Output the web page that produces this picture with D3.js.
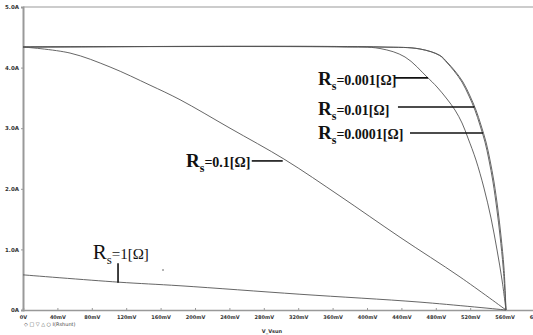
<!DOCTYPE html>
<html>
<head>
<meta charset="utf-8">
<script src="https://cdn.jsdelivr.net/npm/d3@7"></script>
<style>
  body { margin: 0; background: #fff; }
  svg { display: block; }
</style>
</head>
<body>
<svg id="chart"></svg>
<script>
const WIDTH = 533;
const HEIGHT = 335;

// voltage ticks (mV) and current ticks (A)
const xTicks = [0, 40, 80, 120, 160, 200, 240, 280, 320, 360, 400, 440, 480, 520, 560, 600];
const yTicks = [0, 1, 2, 3, 4, 5];

// I-V curves, [mV, A]
const rs001 = [[0, 4.34], [415.1, 4.34], [461.6, 4.307], [484.9, 4.2], [493.0, 4.092], [502.3, 3.944], [511.6, 3.762], [519.8, 3.531], [526.7, 3.3], [532.5, 3.053], [538.4, 2.772], [543.0, 2.475], [547.7, 2.112], [552.3, 1.65], [555.8, 1.221], [559.3, 0.693], [561.6, 0]];
const rs00001 = [[0, 4.34], [415.1, 4.34], [461.6, 4.307], [484.5, 4.2], [492.3, 4.092], [501.3, 3.944], [510.4, 3.762], [518.6, 3.531], [525.5, 3.3], [531.3, 3.053], [537.2, 2.772], [541.8, 2.475], [546.5, 2.112], [551.1, 1.65], [554.7, 1.221], [558.4, 0.693], [561.6, 0]];
const rs0001 = [[0, 4.34], [368.6, 4.34], [415.1, 4.315], [444.2, 4.175], [469.8, 3.845], [481.4, 3.68], [493.0, 3.482], [502.3, 3.3], [510.5, 3.086], [517.4, 2.838], [526.7, 2.475], [536.0, 2.013], [544.2, 1.518], [551.2, 0.99], [557.0, 0.495], [561.6, 0]];
const rs01 = [[0, 4.34], [54.7, 4.24], [101.2, 4.01], [147.7, 3.71], [182.6, 3.47], [240.7, 3.0], [304.7, 2.48], [368.6, 1.88], [438.4, 1.2], [508.2, 0.545], [561.6, 0]];
const rs1 = [[0, 0.58], [110.5, 0.46], [182.6, 0.40], [322, 0.26], [461.6, 0.13], [561.6, 0]];

const curves = [rs001, rs00001, rs0001, rs01, rs1];

// labels: value text, text anchor [mV, A], leader [[mV, A], [mV, A]]
const labelText = ['0.001', '0.01', '0.0001', '0.1', '1'];
const labelPos = [[343, 3.71], [343, 3.22], [343, 2.82], [189.5, 2.36], [81, 0.84]];
const leaders = [
  [[432, 3.83], [471, 3.83]],
  [[436, 3.35], [525, 3.35]],
  [[450, 2.92], [535, 2.92]],
  [[266, 2.46], [302, 2.46]],
  [[110.5, 0.77], [110.5, 0.45]]
];

const svg = d3.select('#chart').attr('width', WIDTH).attr('height', HEIGHT);

const x = d3.scaleLinear().domain([0, 600]).range([23, 539]);
const y = d3.scaleLinear().domain([0, 5]).range([310, 7]);

// top border
svg.append('line')
  .attr('x1', x(0)).attr('x2', WIDTH)
  .attr('y1', y(5)).attr('y2', y(5))
  .attr('stroke', '#999').attr('stroke-width', 1.2);

// x axis
const xAxis = svg.append('g')
  .attr('transform', `translate(0,${y(0)})`)
  .call(d3.axisBottom(x).tickValues(xTicks).tickSize(-2).tickPadding(5)
    .tickFormat(d => d === 0 ? '0V' : d + 'mV'));
xAxis.select('.domain').attr('stroke', '#999').attr('stroke-width', 1.5);
xAxis.selectAll('.tick line').attr('stroke', '#999');
xAxis.selectAll('text')
  .attr('font-family', 'DejaVu Sans').attr('font-size', 5).attr('font-weight', 'bold').attr('fill', '#333');

// y axis
const yAxis = svg.append('g')
  .attr('transform', `translate(${x(0)},0)`)
  .call(d3.axisLeft(y).tickValues(yTicks).tickSize(2).tickPadding(2)
    .tickFormat(d => d === 0 ? '0A' : d.toFixed(1) + 'A'));
yAxis.select('.domain').attr('stroke', '#999').attr('stroke-width', 2);
yAxis.selectAll('.tick line').attr('stroke', '#999');
yAxis.selectAll('text')
  .attr('font-family', 'DejaVu Sans').attr('font-size', 5.5).attr('font-weight', 'bold').attr('fill', '#333');

// curves
const line = d3.line()
  .x(d => x(d[0]))
  .y(d => y(d[1]))
  .curve(d3.curveCatmullRom.alpha(0.5));

svg.append('g').selectAll('path')
  .data(curves)
  .join('path')
  .attr('d', line)
  .attr('fill', 'none')
  .attr('stroke', '#555')
  .attr('stroke-width', 0.9);

// leaders
svg.append('g').selectAll('line')
  .data(leaders)
  .join('line')
  .attr('x1', d => x(d[0][0])).attr('y1', d => y(d[0][1]))
  .attr('x2', d => x(d[1][0])).attr('y2', d => y(d[1][1]))
  .attr('stroke', '#111')
  .attr('stroke-width', 1.6);

// labels
labelText.forEach((t, i) => {
  const big = i === 4;
  const txt = svg.append('text')
    .attr('x', x(labelPos[i][0]))
    .attr('y', y(labelPos[i][1]))
    .attr('font-family', 'Liberation Serif')
    .attr('font-weight', big ? 'normal' : 'bold')
    .attr('fill', '#111');
  txt.append('tspan').attr('font-size', big ? 21 : 19).text('R');
  txt.append('tspan').attr('font-size', big ? 13 : 12).attr('dy', 5).text('s');
  txt.append('tspan').attr('font-size', big ? 15 : 14).attr('dy', -5).text('=' + t + '[Ω]');
});

// stray dot
svg.append('circle').attr('cx', x(162.8)).attr('cy', y(0.66)).attr('r', 0.8).attr('fill', '#555');

// legend and axis title
svg.append('text')
  .attr('x', 24).attr('y', 326)
  .attr('font-family', 'DejaVu Sans').attr('font-size', 5).attr('fill', '#444')
  .text('◇ □ ▽ △ ○ I(Rshunt)');
svg.append('text')
  .attr('x', 272).attr('y', 333)
  .attr('text-anchor', 'middle')
  .attr('font-family', 'DejaVu Sans').attr('font-size', 5).attr('font-weight', 'bold').attr('fill', '#333')
  .text('V_Vsun');
</script>
</body>
</html>
